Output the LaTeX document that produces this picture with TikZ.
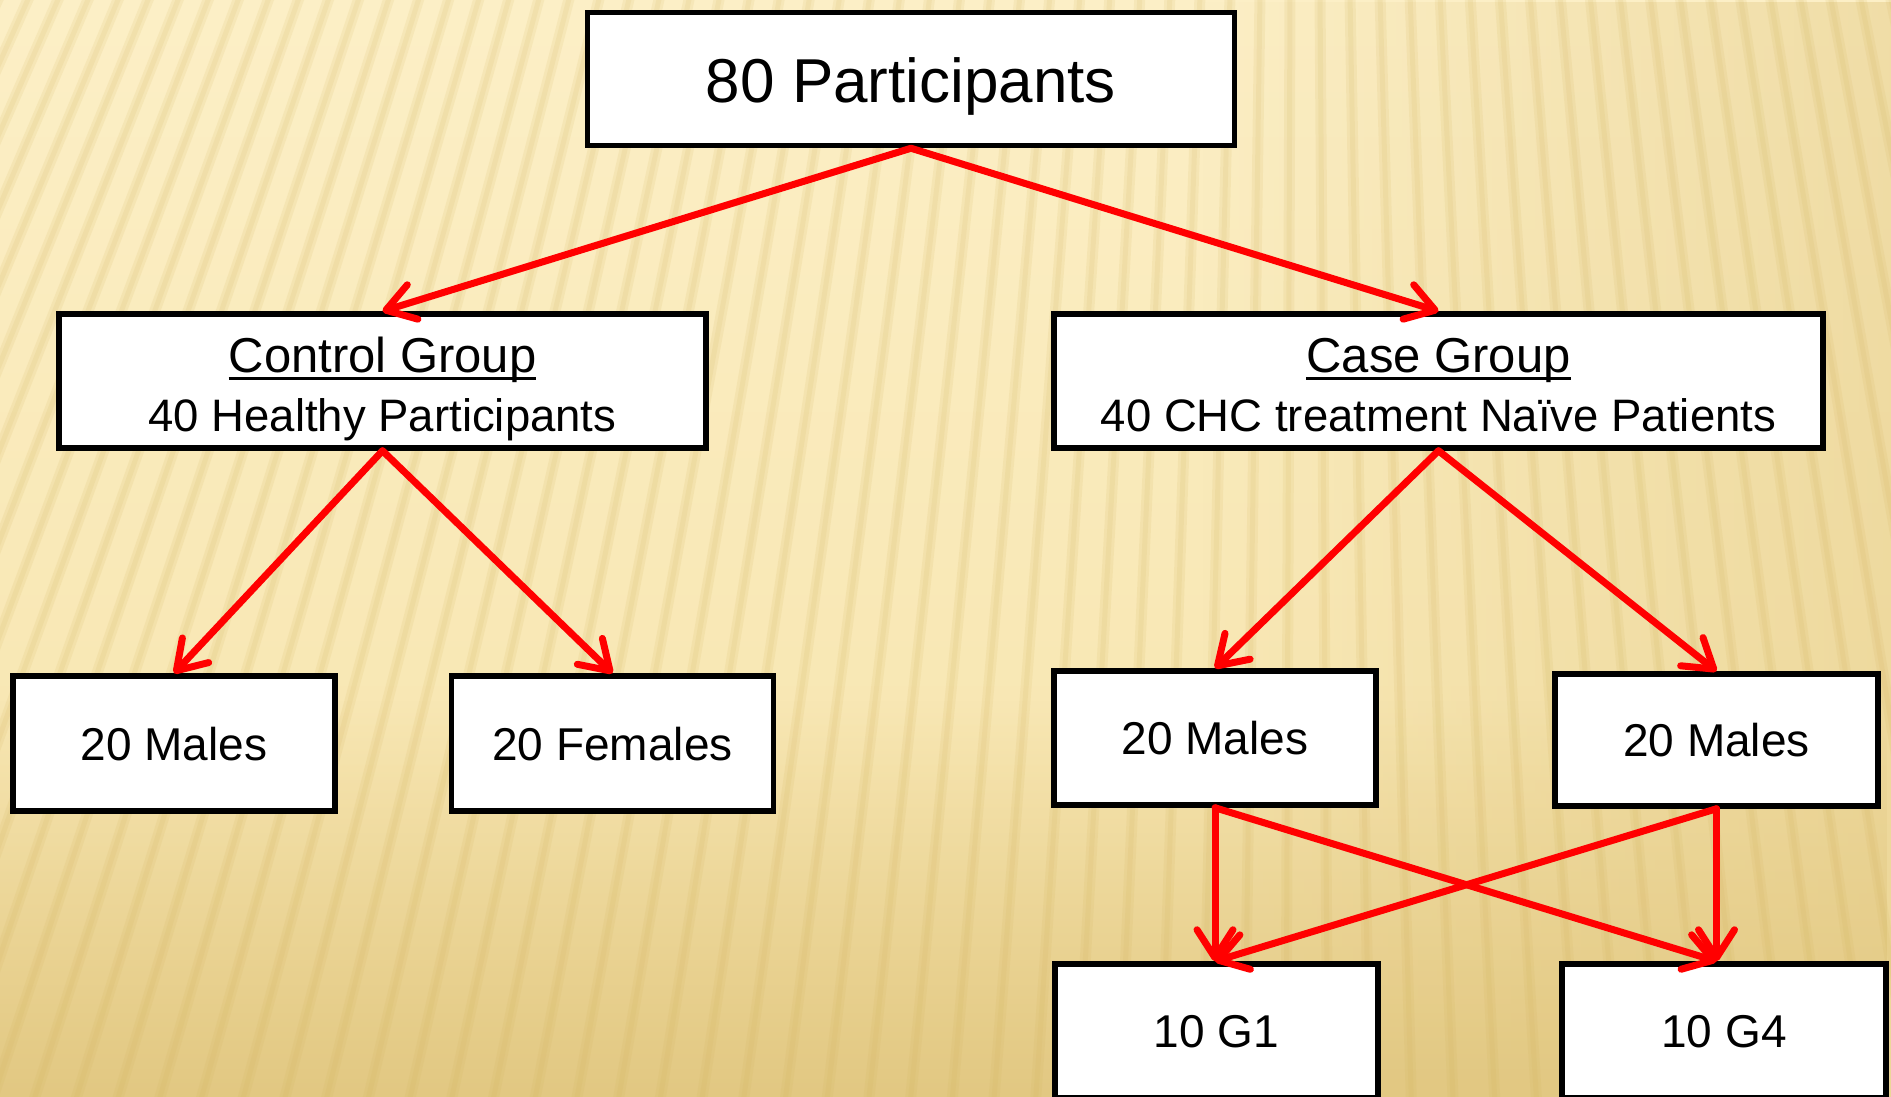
\documentclass[tikz,border=0pt]{standalone}
\usepackage{fontspec}
\setmainfont{Liberation Sans}
\usetikzlibrary{arrows.meta,calc,fadings}
\definecolor{bglight}{HTML}{FCEFC6}
\definecolor{bgmid}{HTML}{F6E3AA}
\definecolor{bgdark}{HTML}{E2C882}
\definecolor{stripecol}{HTML}{D2B25A}
\newcommand\fsz[1]{\fontsize{#1}{#1}\selectfont}
\newsavebox\ulbox
\newcommand\myul[1]{\sbox\ulbox{#1}\rlap{\rule[-7pt]{\wd\ulbox}{3pt}}\usebox\ulbox}
\begin{document}
\begin{tikzpicture}[x=1pt,y=-1pt,
  box/.style={draw=black, line width=5.5pt, fill=white, rectangle, inner sep=0pt, text depth=0pt},
  conn/.style={draw=red, line width=7pt, line cap=round,
    -{Straight Barb[round, length=28pt 0 0, width=36pt 0 0]}},
  stripe/.style={draw=stripecol, line width=11pt, draw opacity=0.13},
  stripecore/.style={draw=stripecol, line width=5pt, draw opacity=0.12}]
\useasboundingbox (0,0) rectangle (1891,1097);
% background
\begin{scope}
  \clip (0,0) rectangle (1891,1097);
  \shade[top color=bglight, bottom color=bgmid] (0,0) rectangle (1891,1097);
  \fill[bgdark, path fading=north] (0,700) rectangle (1891,1097);
  \fill[bgdark, fill opacity=0.45, path fading=west] (1200,0) rectangle (1891,1097);
  \foreach \i in {0,...,64}{
    \draw[stripe] (\i*30,-5) -- ({1300+(\i*30-1300)*1.392},1102);
    \draw[stripecore] (\i*30,-5) -- ({1300+(\i*30-1300)*1.392},1102);}
\end{scope}
% boxes
\node[box, minimum width=647pt, minimum height=133pt, text height=48pt, font=\fsz{62}] (top) at (911,79) {80 Participants};
\node[box, minimum width=647pt, minimum height=134pt] (ctrl) at (382.5,381) {};
\node[anchor=base, font=\fsz{49}] (ctrlh) at ($(ctrl.center)+(0,-8.5)$) {\myul{Control Group}};
\node[anchor=base, font=\fsz{45.5}] (ctrls) at ($(ctrl.center)+(0,50)$) {40 Healthy Participants};
\node[box, minimum width=769pt, minimum height=134pt] (case) at (1438.5,381) {};
\node[anchor=base, font=\fsz{49}] (caseh) at ($(case.center)+(0,-8.5)$) {\myul{Case Group}};
\node[anchor=base, font=\fsz{45.5}] (cases) at ($(case.center)+(0,50)$) {40 CHC treatment Naïve Patients};
\node[box, minimum width=322pt, minimum height=135pt, font=\fsz{46}] (m1) at (174,743.5) {20 Males};
\node[box, minimum width=322pt, minimum height=135pt, font=\fsz{46}] (f1) at (612.5,743.5) {20 Females};
\node[box, minimum width=322pt, minimum height=134pt, font=\fsz{46}] (m2) at (1215,738) {20 Males};
\node[box, minimum width=323pt, minimum height=132pt, font=\fsz{46}] (m3) at (1716.5,740) {20 Males};
\node[box, minimum width=323pt, minimum height=134pt, font=\fsz{46}] (g1) at (1216.5,1031) {10 G1};
\node[box, minimum width=324pt, minimum height=134pt, font=\fsz{46}] (g4) at (1724,1031) {10 G4};
% connectors
\draw[conn] (top.south) -- (ctrl.north);
\draw[conn] (top.south) -- (case.north);
\draw[conn] (ctrl.south) -- (m1.north);
\draw[conn] (ctrl.south) -- (f1.north);
\draw[conn] (case.south) -- (m2.north);
\draw[conn] (case.south) -- (m3.north);
\draw[conn] (m2.south) -- (m2.south |- g1.north);
\draw[conn] (m2.south) -- (m3.south |- g4.north);
\draw[conn] (m3.south) -- (m3.south |- g4.north);
\draw[conn] (m3.south) -- (m2.south |- g1.north);
\end{tikzpicture}
\end{document}
